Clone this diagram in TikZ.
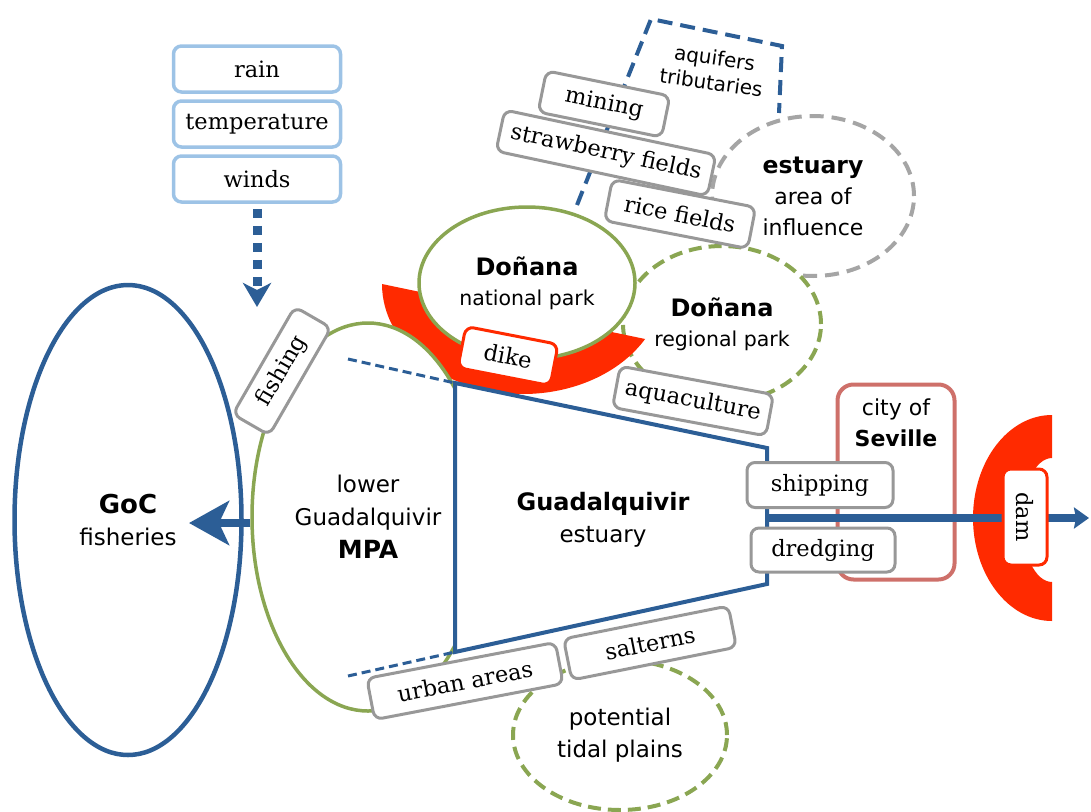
\documentclass[tikz,border=0pt]{standalone}
\usepackage{fontspec}
\setmainfont{DejaVu Sans}
\newfontfamily\tagfont{DejaVu Serif}
\usetikzlibrary{arrows.meta,shapes.geometric}

\definecolor{estblue}{RGB}{44,94,150}
\definecolor{parkgreen}{RGB}{138,166,82}
\definecolor{taggray}{RGB}{152,152,152}
\definecolor{zonegray}{RGB}{165,165,165}
\definecolor{dikered}{RGB}{255,42,0}
\definecolor{cityred}{RGB}{206,112,106}
\definecolor{skyblue}{RGB}{157,195,230}

\newcommand{\headword}[2][24]{{\fontsize{#1}{30}\selectfont\bfseries #2}}

\tikzset{
  tag/.style={draw=taggray,line width=3pt,rounded corners=8pt,fill=white,
    minimum height=42pt,inner sep=0pt,font=\tagfont\fontsize{22.5}{26}\selectfont},
  weather/.style={tag,draw=skyblue,line width=3.5pt,minimum width=167pt,minimum height=46pt},
  redtag/.style={tag,draw=dikered},
  zone/.style={ellipse,inner sep=0pt,fill=white,align=center,
    font=\fontsize{23}{32}\selectfont},
  park/.style={zone,draw=parkgreen,line width=3.5pt,font=\fontsize{20.5}{30}\selectfont},
  dashpark/.style={park,dash pattern=on 13pt off 7pt,line width=4pt},
}

\begin{document}
\begin{tikzpicture}[x=1pt,y=-1pt]
\useasboundingbox (0,0) rectangle (1091,811);
\draw[estblue,line width=4pt,dash pattern=on 15pt off 8pt] (577,205) -- (651,19) -- (782,46) -- (779,113);
\node[rotate=-8,align=center,font=\fontsize{20}{25}\selectfont] (aquifers) at (713,70) {aquifers\\tributaries};
\node[zone,draw=zonegray,line width=4pt,dash pattern=on 14pt off 8pt,minimum width=202pt,minimum height=160pt,font=\fontsize{22}{31}\selectfont] (influence) at (813,196) {\headword[23.5]{estuary}\\area of\\influence};
\node[dashpark,minimum width=198pt,minimum height=156pt] (regional) at (722,324) {\headword{Doñana}\\regional park};
\fill[dikered] (382,284) arc[start angle=180,end angle=30,x radius=141,y radius=110] -- cycle;
\node[park,minimum width=216pt,minimum height=152pt] (national) at (527,283) {\headword{Doñana}\\national park};
\node[park,minimum width=232pt,minimum height=388pt,font=\fontsize{23}{33}\selectfont] (mpa) at (368,517) {lower\\Guadalquivir\\\headword[25]{MPA}};

\coordinate (tl) at (455,383);
\coordinate (tr) at (767,448);
\coordinate (br) at (767,584);
\coordinate (bl) at (455,652);
\draw[estblue,line width=4pt,fill=white] (tl) -- (tr) -- (br) -- (bl) -- cycle;
\node[align=center,font=\fontsize{23}{32}\selectfont] (estuary) at (603,520) {\headword{Guadalquivir}\\estuary};
\coordinate (topend) at (348,359);
\coordinate (botend) at (348,676);
\draw[estblue,line width=3pt,dash pattern=on 9pt off 5pt] (topend) -- (tl);
\draw[estblue,line width=3pt,dash pattern=on 9pt off 5pt] (botend) -- (bl);

\node[zone,draw=estblue,line width=4.5pt,minimum width=227pt,minimum height=470pt] (goc) at (128,520) {\headword[26]{GoC}\\fisheries};
\coordinate (gocin) at (189,523);
\draw[estblue,line width=8pt,-{Stealth[length=40pt,width=44pt,inset=10pt]}] (mpa.west |- gocin) -- (gocin);

\node[dashpark,minimum width=214pt,minimum height=150pt,font=\fontsize{23}{32}\selectfont] (tidal) at (620,735) {potential\\tidal plains};

\node[draw=cityred,line width=4pt,rounded corners=16pt,fill=white,minimum width=117pt,minimum height=195pt] (city) at (896,482) {};
\node[align=center,font=\fontsize{22}{31}\selectfont] (citylabel) at (896,423) {city of\\\headword[22]{Seville}};
\fill[dikered] (1052,415) arc[start angle=-90,end angle=-270,x radius=79,y radius=103] -- (1052,582) arc[start angle=90,end angle=270,x radius=30,y radius=62] -- cycle;
\coordinate (sea) at (1089,518);
\draw[estblue,line width=8pt,-{Stealth[length=15pt,width=21pt,inset=2pt]}] (tr |- sea) -- (sea);
\node[redtag,rotate=-90,minimum width=96pt,minimum height=44pt] (dam) at (1025,517) {dam};

\node[tag,rotate=-11.5,minimum width=126pt] (mining) at (604,104) {mining};
\node[tag,rotate=-12,minimum width=216pt] (strawberry) at (606,153) {strawberry fields};
\node[tag,rotate=-11,minimum width=146pt] (rice) at (680,214) {rice fields};
\node[redtag,rotate=-11,minimum width=94pt] (dike) at (508,356) {dike};
\node[tag,rotate=-10.5,minimum width=156pt] (aquaculture) at (693,401) {aquaculture};
\node[tag,rotate=60,minimum width=124pt] (fishing) at (282,371) {fishing};
\node[tag,minimum width=146pt,minimum height=45pt] (shipping) at (820,485) {shipping};
\node[tag,minimum width=144pt,minimum height=44pt] (dredging) at (823,550) {dredging};
\node[tag,rotate=10.8,minimum width=192pt] (urban) at (465,681) {urban areas};
\node[tag,rotate=11.3,minimum width=168pt] (salterns) at (650,643) {salterns};

\node[weather] (rain) at (257,69) {rain};
\node[weather] (temperature) at (257,124) {temperature};
\node[weather] (winds) at (257,179) {winds};
\coordinate (windtip) at (257,307);
\draw[estblue,line width=9pt,dash pattern=on 9pt off 8pt,shorten <=5pt,-{Stealth[length=24pt,width=28pt,inset=7pt]}] (winds.south) -- (windtip);
\end{tikzpicture}
\end{document}
